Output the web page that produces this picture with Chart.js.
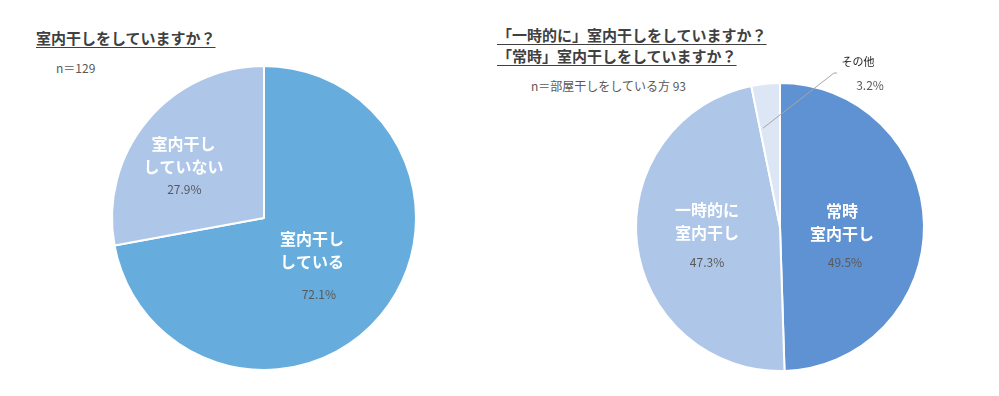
<!DOCTYPE html>
<html lang="ja">
<head>
<meta charset="utf-8">
<script src="https://cdn.jsdelivr.net/npm/chart.js@4.4.0/dist/chart.umd.min.js"></script>
<style>
  html, body { margin: 0; padding: 0; background: #fff; }
  body { width: 999px; height: 396px; position: relative; overflow: hidden;
         font-family: "Noto Sans CJK JP", "Noto Sans", sans-serif; }
  .title { position: absolute; font-size: 15px; font-weight: bold; color: #404040;
           line-height: 21px; text-decoration: underline; text-underline-offset: 3px;
           text-decoration-thickness: 1px; white-space: nowrap; }
  .note { position: absolute; font-size: 12px; color: #595959; white-space: nowrap; }
  .box { position: absolute; top: 0; height: 396px; }
</style>
</head>
<body>
<div class="title" style="left:36px; top:27px;">室内干しをしていますか？</div>
<div class="note" style="left:56px; top:59px;">n＝129</div>
<div class="title" style="left:497px; top:24px;">「一時的に」室内干しをしていますか？<br>「常時」室内干しをしていますか？</div>
<div class="note" style="left:531px; top:77px;">n＝部屋干しをしている方 93</div>

<div class="box" style="left:0; width:500px;"><canvas id="leftPie"></canvas></div>
<div class="box" style="left:500px; width:499px;"><canvas id="rightPie"></canvas></div>

<script>
// 左：室内干しをしていますか？
const leftLabels = ['室内干し\nしている', '室内干し\nしていない'];
const leftValues = [72.1, 27.9];
const leftColors = ['#66ADDD', '#AEC7E8'];

// 右：「一時的に」「常時」
const rightLabels = ['常時\n室内干し', '一時的に\n室内干し', 'その他'];
const rightValues = [49.5, 47.3, 3.2];
const rightColors = ['#5F92D3', '#AEC7E8', '#DCE6F4'];

// スライス内ラベル描画
const sliceLabels = {
  id: 'sliceLabels',
  afterDatasetsDraw(chart, args, opts) {
    const ctx = chart.ctx;
    const meta = chart.getDatasetMeta(0);
    const labels = chart.data.labels;
    const values = chart.data.datasets[0].data;
    meta.data.forEach((arc, i) => {
      const s = opts.spots[i];
      const { x, y, startAngle, endAngle, outerRadius } = arc.getProps(['x', 'y', 'startAngle', 'endAngle', 'outerRadius'], true);
      const mid = (startAngle + endAngle) / 2;
      const pct = values[i].toFixed(1) + '%';
      ctx.save();
      ctx.textAlign = 'center';
      ctx.textBaseline = 'middle';
      if (s.outside) {
        const sx = x + Math.cos(mid) * outerRadius * s.f + s.dx;
        const sy = y + Math.sin(mid) * outerRadius * s.f;
        const ex = x + s.ex, ey = y + s.ey;
        ctx.strokeStyle = '#A6A6A6';
        ctx.lineWidth = 1;
        ctx.beginPath();
        ctx.moveTo(sx, sy);
        ctx.lineTo(ex, ey);
        ctx.lineTo(ex + 3, ey);
        ctx.stroke();
        ctx.fillStyle = '#262626';
        ctx.font = '11px "Noto Sans CJK JP"';
        ctx.fillText(labels[i], ex + 24, ey - 11);
        ctx.fillStyle = '#595959';
        ctx.font = '12px "Noto Sans CJK JP"';
        ctx.fillText(pct, ex + 36, ey + 12);
      } else {
        const cx = x + Math.cos(mid) * outerRadius * s.f + s.dx;
        const cy = y + Math.sin(mid) * outerRadius * s.f + s.dy;
        const lines = labels[i].split('\n');
        ctx.fillStyle = '#FFFFFF';
        ctx.font = 'bold 16px "Noto Sans CJK JP"';
        lines.forEach((t, k) => ctx.fillText(t, cx, cy + (k - (lines.length - 1) / 2) * 23));
        ctx.fillStyle = '#595959';
        ctx.font = '12px "Noto Sans CJK JP"';
        ctx.fillText(pct, cx + s.px, cy + 11.5 + s.gap);
      }
      ctx.restore();
    });
  }
};

function makePie(id, labels, values, colors, padding, spots) {
  return new Chart(document.getElementById(id), {
    type: 'pie',
    data: {
      labels: labels,
      datasets: [{
        data: values,
        backgroundColor: colors,
        borderColor: '#FFFFFF',
        borderWidth: 2
      }]
    },
    options: {
      responsive: true,
      maintainAspectRatio: false,
      animation: false,
      layout: { padding: padding },
      plugins: {
        legend: { display: false },
        tooltip: { enabled: false },
        sliceLabels: { spots: spots }
      }
    },
    plugins: [sliceLabels]
  });
}

makePie('leftPie', leftLabels, leftValues, leftColors,
  { left: 111, right: 83, top: 65, bottom: 25 },
  [ { f: 0.41, dx: 0, dy: -7, px: 7, gap: 32 },
    { f: 0.69, dx: 0, dy: 5, px: 1, gap: 22 } ]);

makePie('rightPie', rightLabels, rightValues, rightColors,
  { left: 135, right: 74, top: 82, bottom: 24 },
  [ { f: 0.43, dx: 0, dy: -4, px: 3, gap: 29 },
    { f: 0.51, dx: 0, dy: -14, px: 0, gap: 29 },
    { outside: true, f: 0.69, dx: -7, ex: 54, ey: -154 } ]);
</script>
</body>
</html>
